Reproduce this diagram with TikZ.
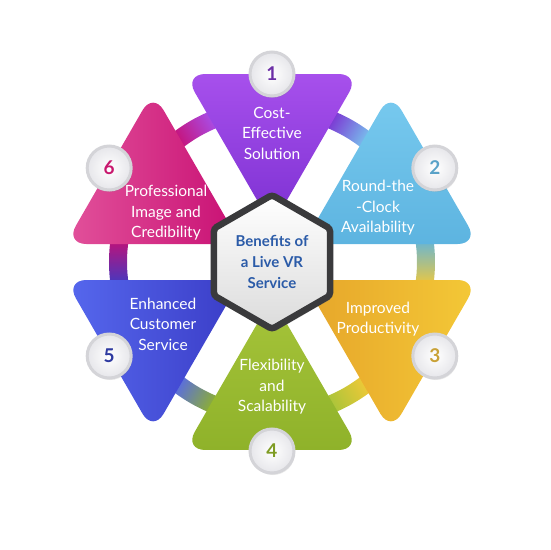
\documentclass[tikz,border=0pt]{standalone}
\usepackage{fontspec}
\setmainfont{Lato}
\usetikzlibrary{shapes.geometric,shadows}
\definecolor{purpA}{HTML}{A750EC}
\definecolor{purpB}{HTML}{7C30D2}
\definecolor{cyanA}{HTML}{78CAEF}
\definecolor{cyanB}{HTML}{5DB4E0}
\definecolor{goldA}{HTML}{E6A52A}
\definecolor{goldB}{HTML}{F4C937}
\definecolor{limeA}{HTML}{A6C43A}
\definecolor{limeB}{HTML}{8FB22A}
\definecolor{indA}{HTML}{5668EE}
\definecolor{indB}{HTML}{3A3CC6}
\definecolor{pinkA}{HTML}{E2529B}
\definecolor{pinkB}{HTML}{C80F73}
\definecolor{ringgray}{HTML}{D4D4D8}
\definecolor{dotgray}{HTML}{E6E6EA}
\definecolor{hubblue}{HTML}{2B5BA8}
\definecolor{hubedge}{HTML}{3A3A3C}
\begin{document}
\begin{tikzpicture}[x=1pt,y=1pt,
  petal/.style={rounded corners=21pt},
  lbl/.style={text=white,align=center,inner sep=0pt,font=\fontsize{15.5}{20.5}\selectfont},
  numdot/.style={circle,minimum size=44pt,inner sep=0pt,draw=ringgray,line width=3pt,
    inner color=white,outer color=dotgray,font=\fontsize{19}{19}\selectfont\bfseries,
    drop shadow={opacity=0.18,shadow xshift=1pt,shadow yshift=-2pt}},
  hub/.style={regular polygon,regular polygon sides=6,shape border rotate=30,
    minimum size=134pt,line width=6.5pt,rounded corners=3pt,draw=hubedge,
    top color=white,bottom color=black!14,text=hubblue,align=center,
    font=\fontsize{15}{21}\selectfont\bfseries,
    drop shadow={opacity=0.25,shadow xshift=2pt,shadow yshift=-3pt}}]
\useasboundingbox (-272,-288) rectangle (278,262);
% ring pieces in the gaps
\shade[top color=purpB,bottom color=cyanA,shading angle=60]
 (51:145) -- (51:163) arc[start angle=51,end angle=69,radius=163] -- (69:145) arc[start angle=69,end angle=51,radius=145] -- cycle;
\shade[top color=cyanB,middle color=limeA,bottom color=goldB,shading angle=0]
 (-9:145) -- (-9:163) arc[start angle=-9,end angle=9,radius=163] -- (9:145) arc[start angle=9,end angle=-9,radius=145] -- cycle;
\shade[top color=goldB,bottom color=limeA,shading angle=-60]
 (-69:145) -- (-69:163) arc[start angle=-69,end angle=-51,radius=163] -- (-51:145) arc[start angle=-51,end angle=-69,radius=145] -- cycle;
\shade[top color=limeB,bottom color=indA,shading angle=-120]
 (-129:145) -- (-129:163) arc[start angle=-129,end angle=-111,radius=163] -- (-111:145) arc[start angle=-111,end angle=-129,radius=145] -- cycle;
\shade[top color=indB,bottom color=pinkB,shading angle=180]
 (171:145) -- (171:163) arc[start angle=171,end angle=189,radius=163] -- (189:145) arc[start angle=189,end angle=171,radius=145] -- cycle;
\shade[top color=pinkB,bottom color=purpA,shading angle=120]
 (111:145) -- (111:163) arc[start angle=111,end angle=129,radius=163] -- (129:145) arc[start angle=129,end angle=111,radius=145] -- cycle;
% the six petals
\shade[petal,top color=purpA,bottom color=purpB] (90:36) -- ++(60:175.5) -- ++(180:175.5) -- cycle;
\shade[petal,top color=cyanA,bottom color=cyanB] (30:36) -- ++(0:175.5) -- ++(120:175.5) -- cycle;
\shade[petal,left color=goldA,right color=goldB] (-30:36) -- ++(-60:175.5) -- ++(60:175.5) -- cycle;
\shade[petal,top color=limeA,bottom color=limeB] (-90:36) -- ++(-120:175.5) -- ++(0:175.5) -- cycle;
\shade[petal,left color=indA,right color=indB] (-150:36) -- ++(-180:175.5) -- ++(-60:175.5) -- cycle;
\shade[petal,left color=pinkA,right color=pinkB] (150:36) -- ++(120:175.5) -- ++(-120:175.5) -- cycle;
% labels
\node[lbl] (t1) at (0,129) {Cost-\\Effective\\Solution};
\node[lbl] (t2) at (106,54) {Round-the\\-Clock\\Availability};
\node[lbl] (t3) at (106,-57) {Improved\\Productivity};
\node[lbl] (t4) at (0,-125) {Flexibility\\and\\Scalability};
\node[lbl] (t5) at (-109,-62) {Enhanced\\Customer\\Service};
\node[lbl] (t6) at (-106,49) {Professional\\Image and\\Credibility};
% numbers
\node[numdot,text={rgb,255:red,108;green,47;blue,166}] (n1) at (90:188) {1};
\node[numdot,text={rgb,255:red,90;green,162;blue,200}] (n2) at (30:188) {2};
\node[numdot,text={rgb,255:red,201;green,162;blue,56}] (n3) at (-30:188) {3};
\node[numdot,text={rgb,255:red,127;green,156;blue,36}] (n4) at (-90:189) {4};
\node[numdot,text={rgb,255:red,46;green,58;blue,160}] (n5) at (-150:188) {5};
\node[numdot,text={rgb,255:red,200;green,24;blue,110}] (n6) at (150:188) {6};
% centre
\node[hub] (hub) at (0,0) {Benefits of\\a Live VR\\Service};
\end{tikzpicture}
\end{document}
